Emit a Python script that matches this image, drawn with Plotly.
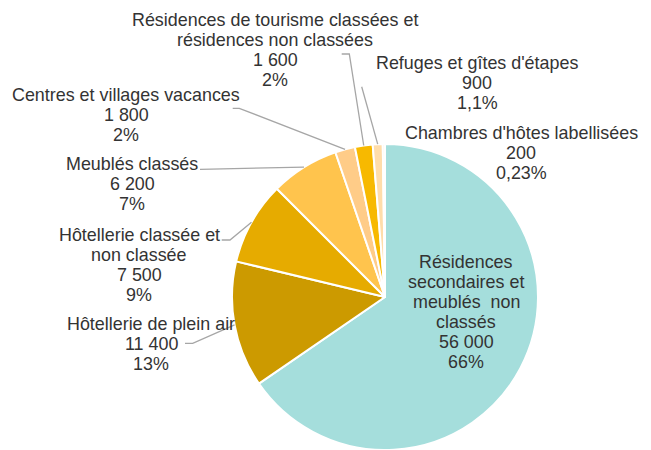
import math
import plotly.graph_objects as go

# ---- data ----
categories = [
    "Résidences secondaires et meublés non classés",
    "Hôtellerie de plein air",
    "Hôtellerie classée et non classée",
    "Meublés classés",
    "Centres et villages vacances",
    "Résidences de tourisme classées et résidences non classées",
    "Refuges et gîtes d'étapes",
    "Chambres d'hôtes labellisées",
]
values = [56000, 11400, 7500, 6200, 1800, 1600, 900, 200]
percent_labels = ["66%", "13%", "9%", "7%", "2%", "2%", "1,1%", "0,23%"]
colors = ["#A5DEDC", "#CC9A00", "#E6AB00", "#FFC44D", "#FFCC88",
          "#F7B900", "#FFDDAA", "#FFE8C8"]

# ---- layout helpers ----
W, H = 651, 450
CX, CY, R = 385, 297, 153  # pie centre / radius in pixels

def px(x):
    return x / W

def py(y):
    return 1 - y / H

def fmt(v):
    return f"{v:,}".replace(",", " ")

# wrapped name lines per category (layout)
name_lines = [
    ["Résidences", "secondaires et", "meublés  non", "classés"],
    ["Hôtellerie de plein air"],
    ["Hôtellerie classée et", "non classée"],
    ["Meublés classés"],
    ["Centres et villages vacances"],
    ["Résidences de tourisme classées et", "résidences non classées"],
    ["Refuges et gîtes d'étapes"],
    ["Chambres d'hôtes labellisées"],
]
# label block positions: (centre x, first line y) in pixels
label_pos = [(466, 262), (151, 324), (139, 235), (132, 164), (126, 95),
             (275, 20), (477, 63), (521, 133)]
# leader line points near label (pixels), ending at slice edge
leader_pts = [None, [(185, 343.3), (192.7, 343.3)], [(221.7, 240), (230, 240)],
              [(200, 169.3)], [(232.7, 108.3), (239.3, 108.3)],
              [(341.7, 54), (349.3, 54)], [(361.7, 86.7)], None]

fig = go.Figure(go.Pie(
    labels=categories, values=values, sort=False, direction="clockwise",
    rotation=0, textinfo="none", hoverinfo="label+value",
    marker=dict(colors=colors, line=dict(color="white", width=2)),
    domain=dict(x=[px(CX - R), px(CX + R)], y=[py(CY + R), py(CY - R)]),
    showlegend=False,
))

annotations = []
shapes = []
total = sum(values)
cum = 0
for i, v in enumerate(values):
    mid = (cum + v / 2) / total * 2 * math.pi
    cum += v
    lines = name_lines[i] + [fmt(v), percent_labels[i]]
    x0, y0 = label_pos[i]
    for k, t in enumerate(lines):
        annotations.append(dict(
            text=t, x=px(x0), y=py(y0 + 20 * k), xref="paper", yref="paper",
            xanchor="center", yanchor="middle", showarrow=False,
            font=dict(family="Liberation Sans, Arial, sans-serif", size=17.9,
                      color="#333333")))
    if leader_pts[i]:
        ex = CX + R * math.sin(mid)
        ey = CY - R * math.cos(mid)
        pts = leader_pts[i] + [(ex, ey)]
        path = "M " + " L ".join(f"{px(a):.5f},{py(b):.5f}" for a, b in pts)
        shapes.append(dict(type="path", path=path, xref="paper", yref="paper",
                           line=dict(color="#A6A6A6", width=1.3)))

fig.update_layout(
    width=W, height=H, margin=dict(l=0, r=0, t=0, b=0),
    paper_bgcolor="white", plot_bgcolor="white",
    annotations=annotations, shapes=shapes,
)

fig.write_html("out.html",
               config={"displayModeBar": False},
               post_script="document.body.style.margin='0';"
                           "document.body.style.overflow='hidden';")
